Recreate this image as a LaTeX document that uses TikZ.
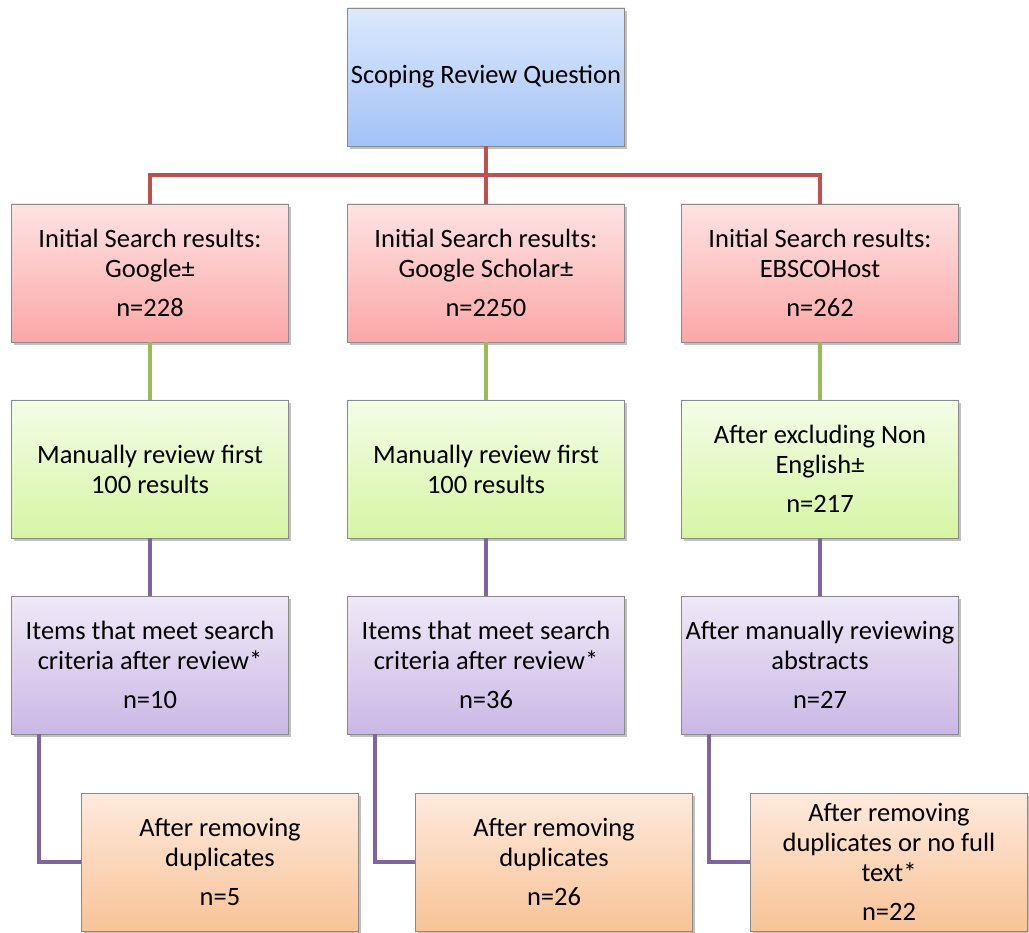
\documentclass[tikz,border=0pt]{standalone}
\usepackage{fontspec}
\setmainfont{Carlito}
\usetikzlibrary{shadows}
\definecolor{blueT}{HTML}{DDE9FD}
\definecolor{blueB}{HTML}{A3C2F6}
\definecolor{redT}{HTML}{FEE3E3}
\definecolor{redB}{HTML}{FBA7A7}
\definecolor{greenT}{HTML}{F4FDE8}
\definecolor{greenB}{HTML}{D6F5A3}
\definecolor{purpT}{HTML}{EFE9F7}
\definecolor{purpB}{HTML}{CAB8E5}
\definecolor{oranT}{HTML}{FEEADC}
\definecolor{oranB}{HTML}{F8C398}
\definecolor{lineRed}{HTML}{C0504D}
\definecolor{lineGreen}{HTML}{9BBB59}
\definecolor{linePurp}{HTML}{8064A2}
\definecolor{boxBorder}{HTML}{8A8A8A}
\tikzset{
  box/.style={rectangle, draw=boxBorder, line width=0.8pt, minimum width=277pt, minimum height=138pt,
    inner sep=1pt, align=center, font=\fontsize{26.5}{30}\selectfont,
    drop shadow={shadow xshift=2pt, shadow yshift=-3pt, opacity=0.35, fill=black!70}},
  bluebox/.style={box, top color=blueT, bottom color=blueB},
  redbox/.style={box, top color=redT, bottom color=redB},
  greenbox/.style={box, top color=greenT, bottom color=greenB},
  purpbox/.style={box, top color=purpT, bottom color=purpB},
  oranbox/.style={box, top color=oranT, bottom color=oranB},
  conn/.style={line width=4pt},
  redconn/.style={conn, draw=lineRed},
  greenconn/.style={conn, draw=lineGreen},
  purpconn/.style={conn, draw=linePurp},
}
\begin{document}
\begin{tikzpicture}[x=1pt,y=-1pt]
\useasboundingbox (0,0) rectangle (1029,933);
% nodes
\node[bluebox] (top) at (486,77) {Scoping Review Question};
\node[redbox] (r1) at (150,273) {Initial Search results:\\Google±\\[9pt]n=228};
\node[redbox] (r2) at (486,273) {Initial Search results:\\Google Scholar±\\[9pt]n=2250};
\node[redbox] (r3) at (820,273) {Initial Search results:\\EBSCOHost\\[9pt]n=262};
\node[greenbox] (g1) at (150,469) {Manually review first\\100 results};
\node[greenbox] (g2) at (486,469) {Manually review first\\100 results};
\node[greenbox] (g3) at (820,469) {After excluding Non\\English±\\[9pt]n=217};
\node[purpbox] (p1) at (150,665) {Items that meet search\\criteria after review*\\[9pt]n=10};
\node[purpbox] (p2) at (486,665) {Items that meet search\\criteria after review*\\[9pt]n=36};
\node[purpbox] (p3) at (820,665) {After manually reviewing\\abstracts\\[9pt]n=27};
\node[oranbox] (o1) at (220,862) {After removing\\duplicates\\[9pt]n=5};
\node[oranbox] (o2) at (554,862) {After removing\\duplicates\\[9pt]n=26};
\node[oranbox] (o3) at (889,862) {After removing\\duplicates or no full\\text*\\[9pt]n=22};
\coordinate (bus) at (486,175);
% connectors
\draw[redconn] (r1.north) |- (bus) -| (r3.north);
\draw[redconn] (top.south) -- (r2.north);
\foreach \i in {1,2,3}{
  \draw[greenconn] (r\i.south) -- (g\i.north);
  \draw[purpconn] (g\i.south) -- (p\i.north);
  \draw[purpconn] ([xshift=28pt]p\i.south west) |- (o\i.west);
}
\end{tikzpicture}
\end{document}
